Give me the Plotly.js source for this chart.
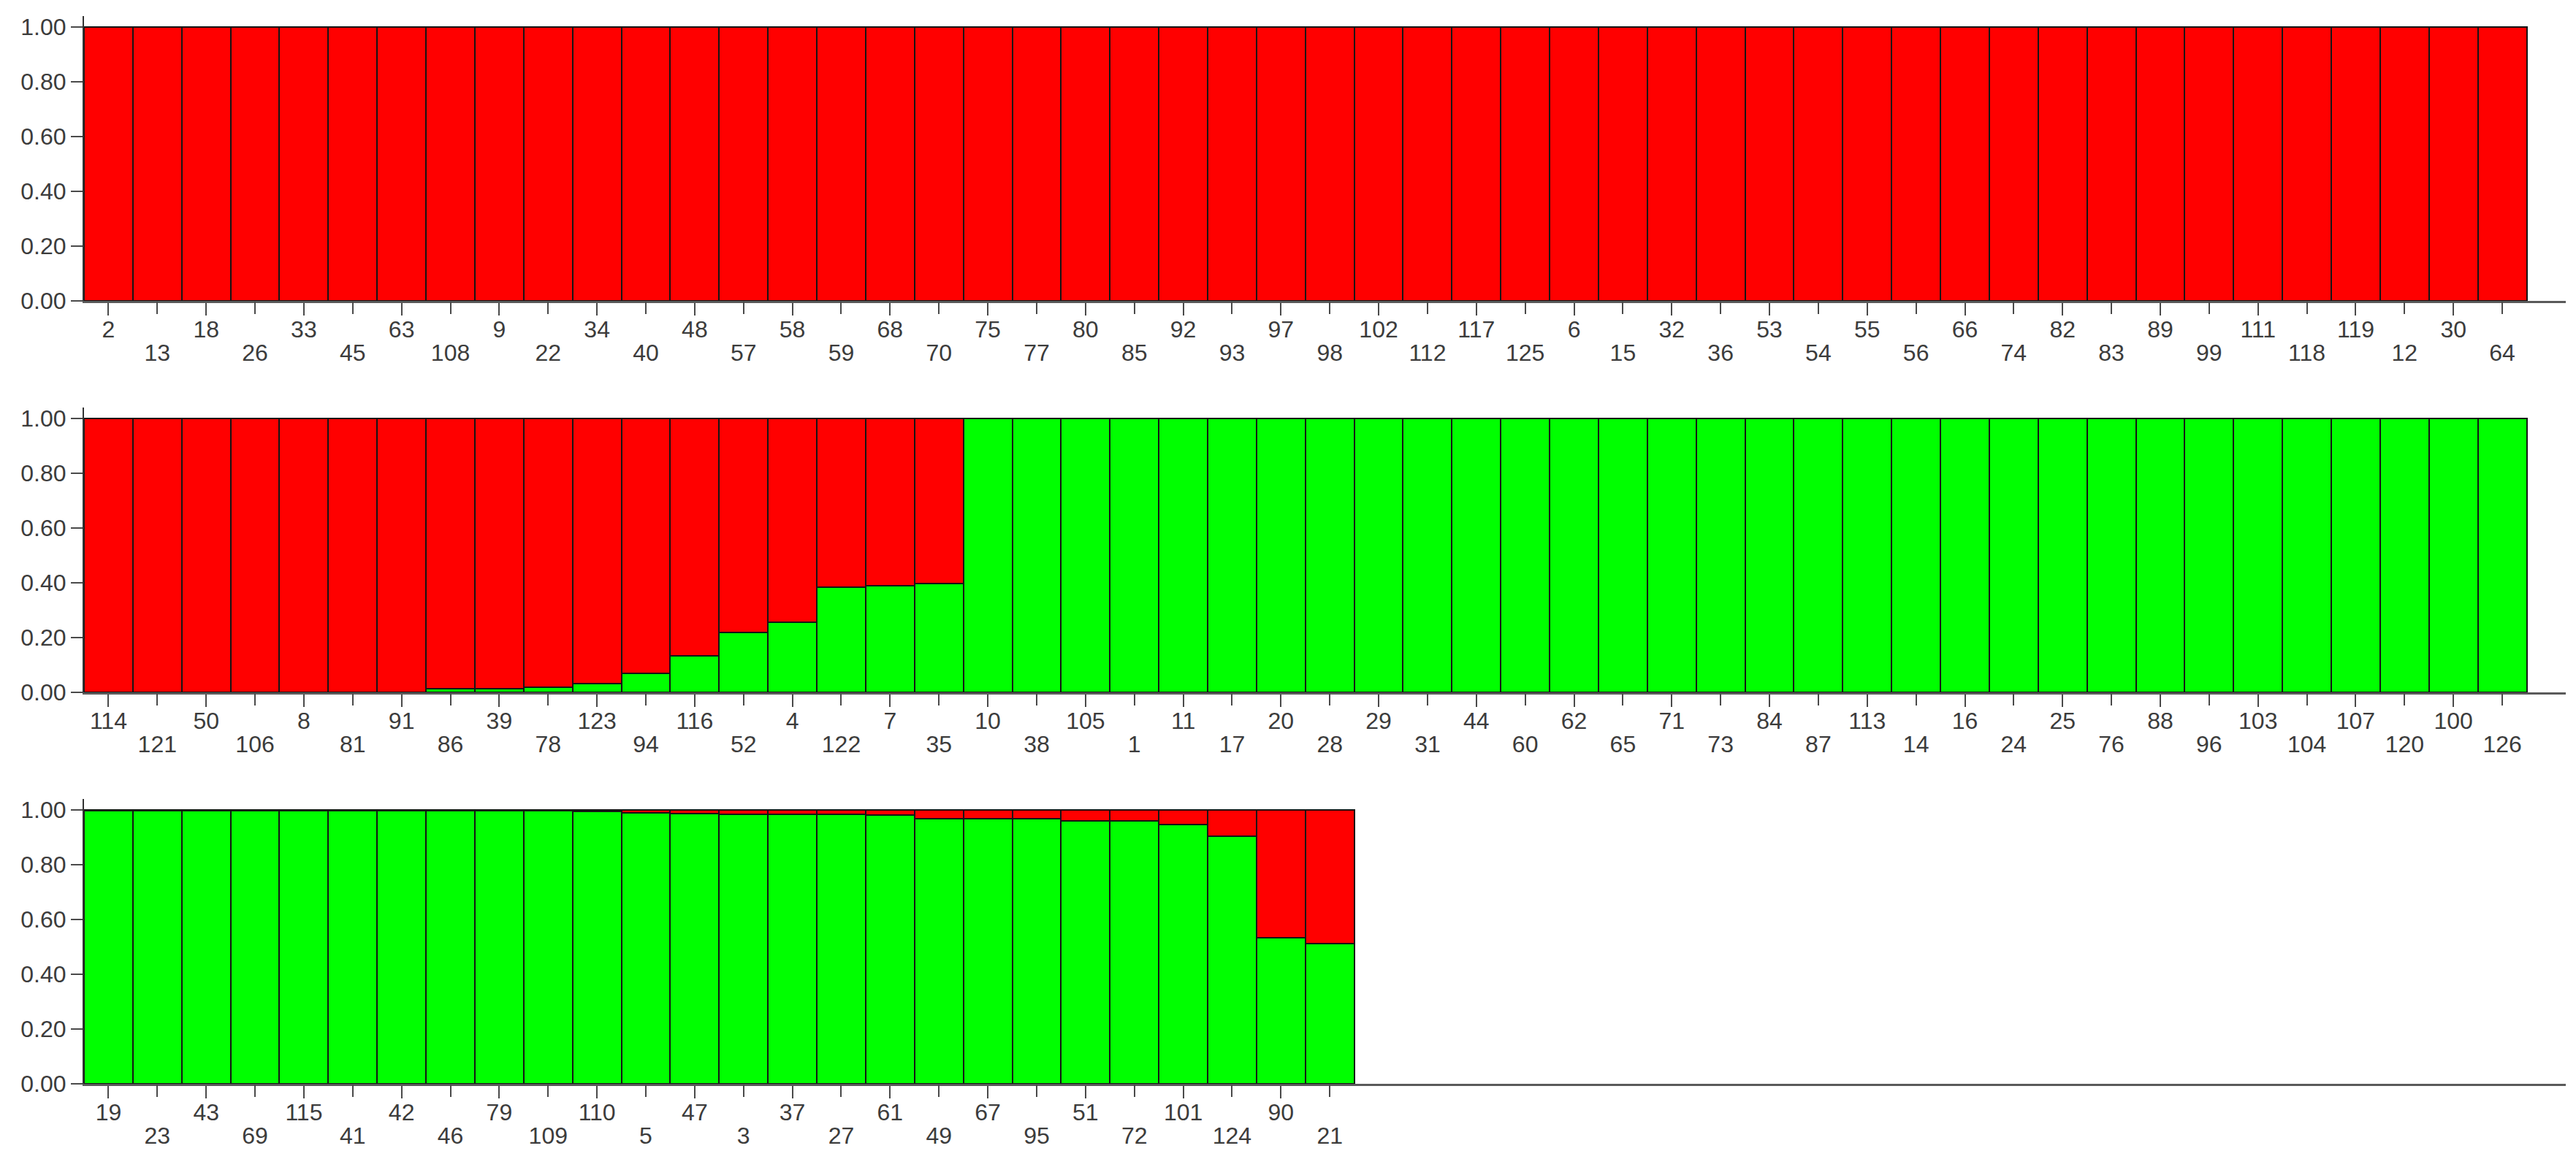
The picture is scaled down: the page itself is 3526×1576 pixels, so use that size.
<!DOCTYPE html>
<html>
<head>
<meta charset="utf-8">
<script src="https://cdn.plot.ly/plotly-3.0.1.min.js"></script>
<style>
  html, body { margin: 0; padding: 0; background: #ffffff; }
  #chart { width: 3526px; height: 1576px; }
</style>
</head>
<body>
<div id="chart"></div>
<script>
// ---------- DATA ----------
const row1Labels = ["2","13","18","26","33","45","63","108","9","22","34","40","48","57","58","59","68","70","75","77","80","85","92","93","97","98","102","112","117","125","6","15","32","36","53","54","55","56","66","74","82","83","89","99","111","118","119","12","30","64"];
const row1Green = [0,0,0,0,0,0,0,0,0,0,0,0,0,0,0,0,0,0,0,0,0,0,0,0,0,0,0,0,0,0,0,0,0,0,0,0,0,0,0,0,0,0,0,0,0,0,0,0,0,0];
const row1Red   = [1,1,1,1,1,1,1,1,1,1,1,1,1,1,1,1,1,1,1,1,1,1,1,1,1,1,1,1,1,1,1,1,1,1,1,1,1,1,1,1,1,1,1,1,1,1,1,1,1,1];

const row2Labels = ["114","121","50","106","8","81","91","86","39","78","123","94","116","52","4","122","7","35","10","38","105","1","11","17","20","28","29","31","44","60","62","65","71","73","84","87","113","14","16","24","25","76","88","96","103","104","107","120","100","126"];
const row2Green = [0,0,0,0,0,0,0,0.012,0.013,0.019,0.032,0.068,0.133,0.218,0.255,0.385,0.390,0.398,1,1,1,1,1,1,1,1,1,1,1,1,1,1,1,1,1,1,1,1,1,1,1,1,1,1,1,1,1,1,1,1];
const row2Red   = [1,1,1,1,1,1,1,0.988,0.987,0.981,0.968,0.932,0.867,0.782,0.745,0.615,0.610,0.602,0,0,0,0,0,0,0,0,0,0,0,0,0,0,0,0,0,0,0,0,0,0,0,0,0,0,0,0,0,0,0,0];

const row3Labels = ["19","23","43","69","115","41","42","46","79","109","110","5","47","3","37","27","61","49","67","95","51","72","101","124","90","21"];
const row3Green = [0.996,0.996,0.996,0.996,0.996,0.996,0.996,0.996,0.996,0.996,0.995,0.988,0.987,0.985,0.984,0.984,0.982,0.969,0.969,0.967,0.960,0.959,0.946,0.904,0.533,0.511];
const row3Red   = [0.004,0.004,0.004,0.004,0.004,0.004,0.004,0.004,0.004,0.004,0.005,0.012,0.013,0.015,0.016,0.016,0.018,0.031,0.031,0.033,0.040,0.041,0.054,0.096,0.467,0.489];

const yTickVals = [0, 0.2, 0.4, 0.6, 0.8, 1.0];

// ---------- STYLE ----------
const GREEN = '#00ff00';
const RED = '#ff0000';
const OUTLINE = '#151515';
const TEXTC = '#3c3c3c';
const FONT = 'Arial, "Liberation Sans", sans-serif';
const FS = 32;
const XRANGE = [-0.5, 50.3];

const rows = [
  { labels: row1Labels, green: row1Green, red: row1Red, domain: [0.73858, 0.98604] },
  { labels: row2Labels, green: row2Green, red: row2Red, domain: [0.39848, 0.64594] },
  { labels: row3Labels, green: row3Green, red: row3Red, domain: [0.05838, 0.30584] }
];

const traces = [];
const layout = {
  width: 3526, height: 1576,
  margin: { l: 115, r: 14, t: 0, b: 0 },
  paper_bgcolor: '#ffffff', plot_bgcolor: '#ffffff',
  barmode: 'stack', bargap: 0,
  showlegend: false,
  font: { family: FONT, size: FS, color: TEXTC }
};

rows.forEach((r, k) => {
  const n = k + 1;
  const xs = r.labels.map((_, i) => i);
  const xa = n === 1 ? 'x' : 'x' + n;
  const ya = n === 1 ? 'y' : 'y' + n;
  const xo = 'x' + (n + 3);
  traces.push({
    type: 'bar', x: xs, y: r.green, xaxis: xa, yaxis: ya,
    marker: { color: GREEN, line: { color: OUTLINE, width: 2 } },
    text: r.labels, hoverinfo: 'text+y', textposition: 'none', width: 1
  });
  traces.push({
    type: 'bar', x: xs, y: r.red, xaxis: xa, yaxis: ya,
    marker: { color: RED, line: { color: OUTLINE, width: 2 } },
    text: r.labels, hoverinfo: 'text+y', textposition: 'none', width: 1
  });

  const oddVals = xs.filter(i => i % 2 === 0);
  const evenVals = xs.filter(i => i % 2 === 1);

  // invisible carrier so the overlaying label axis is drawn
  traces.push({
    type: 'scatter', mode: 'markers', x: evenVals, y: evenVals.map(i => r.green[i]),
    xaxis: xo, yaxis: ya, marker: { opacity: 0, size: 1 }, hoverinfo: 'skip'
  });

  layout['xaxis' + (n === 1 ? '' : n)] = {
    domain: [0, 1], anchor: ya, range: XRANGE,
    showgrid: false, zeroline: false,
    showline: true, linecolor: '#5a5a5a', linewidth: 3,
    ticks: 'outside', ticklen: 17, tickwidth: 2, tickcolor: '#4a4a4a',
    tickvals: oddVals, ticktext: oddVals.map(i => r.labels[i]),
    ticklabelstandoff: -8,
    tickfont: { family: FONT, size: FS, color: TEXTC },
    fixedrange: true
  };
  // second row of labels (alternate samples), drawn on an overlaying axis
  layout['xaxis' + (n + 3)] = {
    overlaying: xa, anchor: ya, side: 'bottom', range: XRANGE,
    showgrid: false, zeroline: false, showline: false,
    ticks: 'outside', ticklen: 17, tickwidth: 2, tickcolor: '#4a4a4a',
    tickvals: evenVals, ticktext: evenVals.map(i => r.labels[i]),
    ticklabelstandoff: 26,
    tickfont: { family: FONT, size: FS, color: TEXTC },
    fixedrange: true
  };
  layout['yaxis' + (n === 1 ? '' : n)] = {
    domain: r.domain, anchor: xa, range: [0, 1.04],
    showgrid: false, zeroline: false,
    showline: true, linecolor: '#333333', linewidth: 2,
    ticks: 'outside', ticklen: 16, tickwidth: 2, tickcolor: '#4a4a4a',
    tickvals: yTickVals, tickformat: '.2f',
    ticklabelstandoff: 0,
    tickfont: { family: FONT, size: FS, color: TEXTC },
    fixedrange: true
  };
});

Plotly.newPlot('chart', traces, layout, { displayModeBar: false, staticPlot: true });
</script>
</body>
</html>
